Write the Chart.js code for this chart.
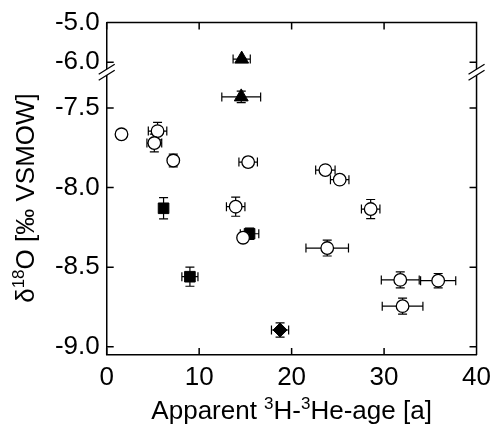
<!DOCTYPE html>
<html>
<head>
<meta charset="utf-8">
<script src="https://cdn.jsdelivr.net/npm/chart.js@4.4.1/dist/chart.umd.min.js"></script>
<style>
  html, body { margin: 0; padding: 0; background: #fff; }
  #wrap { width: 498px; height: 425px; }
</style>
</head>
<body>
<div id="wrap"><canvas id="chart"></canvas></div>
<script>
// open circles
const circleAge    = [1.6, 5.5, 5.15, 7.2, 15.3, 13.95, 14.75, 23.65, 25.2, 28.55, 23.85, 31.75, 35.85, 32.0];
const circleO18    = [-7.665, -7.645, -7.72, -7.83, -7.84, -8.12, -8.315, -7.89, -7.95, -8.135, -8.38, -8.58, -8.585, -8.745];
const circleAgeErr = [0, 1.0, 0.8, 0, 1.0, 1.0, 0, 1.05, 1.0, 1.0, 2.3, 2.05, 1.9, 2.2];
const circleO18Err = [0.025, 0.055, 0.056, 0.04, 0.03, 0.06, 0, 0.02, 0.02, 0.06, 0.05, 0.05, 0.045, 0.05];

// filled squares
const squareAge    = [6.15, 15.45, 9.0];
const squareO18    = [-8.13, -8.29, -8.56];
const squareAgeErr = [0, 1.0, 0.87];
const squareO18Err = [0.067, 0.035, 0.06];

// filled diamond
const diamondAge    = [18.75];
const diamondO18    = [-8.895];
const diamondAgeErr = [0.93];
const diamondO18Err = [0.045];

// filled triangles (one above the axis break)
const triTopAge    = [14.6];
const triTopO18    = [-5.92];
const triTopAgeErr = [0.93];
const triTopO18Err = [0.02];
const triAge    = [14.55];
const triO18    = [-7.43];
const triAgeErr = [2.1];
const triO18Err = [0.036];

const xTicks = [0, 10, 20, 30, 40];
const yTicksLow = [-9.0, -8.5, -8.0, -7.5];
const yTicksTop = [-6.0, -5.0];

const FONT = '"Liberation Sans", Arial, sans-serif';

function pts(xs, ys, xe, ye) {
  return xs.map((x, i) => ({x: x, y: ys[i], xe: xe[i], ye: ye[i]}));
}

function setTicks(vals) {
  return s => { s.ticks = vals.map(v => ({value: v})); };
}

// error bars drawn under the markers
const errorBars = {
  id: 'errorBars',
  beforeDatasetsDraw(chart) {
    const ctx = chart.ctx;
    const xs = chart.scales.x;
    const cap = 4.5;
    ctx.save();
    ctx.strokeStyle = '#000';
    ctx.lineWidth = 1.2;
    chart.data.datasets.forEach(ds => {
      const ys = chart.scales[ds.yAxisID];
      ds.data.forEach(p => {
        const px = xs.getPixelForValue(p.x);
        const py = ys.getPixelForValue(p.y);
        ctx.beginPath();
        if (p.xe) {
          const l = xs.getPixelForValue(p.x - p.xe), r = xs.getPixelForValue(p.x + p.xe);
          ctx.moveTo(l, py); ctx.lineTo(r, py);
          ctx.moveTo(l, py - cap); ctx.lineTo(l, py + cap);
          ctx.moveTo(r, py - cap); ctx.lineTo(r, py + cap);
        }
        if (p.ye) {
          const t = ys.getPixelForValue(p.y + p.ye), b = ys.getPixelForValue(p.y - p.ye);
          ctx.moveTo(px, t); ctx.lineTo(px, b);
          ctx.moveTo(px - cap, t); ctx.lineTo(px + cap, t);
          ctx.moveTo(px - cap, b); ctx.lineTo(px + cap, b);
        }
        ctx.stroke();
      });
    });
    ctx.restore();
  }
};

function drawParts(ctx, parts, x, y) {
  // parts: [text, isSuperscript]
  const big = '26px ' + FONT, small = '17px ' + FONT;
  let w = 0;
  parts.forEach(p => { ctx.font = p[1] ? small : big; w += ctx.measureText(p[0]).width; });
  let cx = x - w / 2;
  parts.forEach(p => {
    ctx.font = p[1] ? small : big;
    ctx.fillText(p[0], cx, p[1] ? y - 10 : y);
    cx += ctx.measureText(p[0]).width;
  });
}

// frame, inward ticks, axis breaks, titles
const frame = {
  id: 'frame',
  afterDraw(chart) {
    const {ctx, chartArea: a, scales} = chart;
    const tl = 7;
    ctx.save();
    ctx.strokeStyle = '#000';
    ctx.lineWidth = 1.5;
    ctx.beginPath();
    ctx.moveTo(a.left, a.top); ctx.lineTo(a.right, a.top); ctx.lineTo(a.right, a.bottom);
    scales.x.ticks.forEach(t => {
      const px = scales.x.getPixelForValue(t.value);
      ctx.moveTo(px, a.bottom); ctx.lineTo(px, a.bottom - tl);
      ctx.moveTo(px, a.top); ctx.lineTo(px, a.top + tl);
    });
    ['y', 'yTop'].forEach(id => {
      const s = scales[id];
      s.ticks.forEach(t => {
        const py = s.getPixelForValue(t.value);
        ctx.moveTo(a.left, py); ctx.lineTo(a.left + tl, py);
        ctx.moveTo(a.right, py); ctx.lineTo(a.right - tl, py);
      });
    });
    ctx.stroke();

    // axis break marks
    const yb = scales.y.top;
    ctx.lineWidth = 1.3;
    [a.left, a.right].forEach(x0 => {
      const dx = 8, dy = 5, g = 3;
      ctx.fillStyle = '#fff';
      ctx.beginPath();
      ctx.moveTo(x0 - dx, yb + dy - g); ctx.lineTo(x0 + dx, yb - dy - g);
      ctx.lineTo(x0 + dx, yb - dy + g); ctx.lineTo(x0 - dx, yb + dy + g);
      ctx.closePath(); ctx.fill();
      ctx.beginPath();
      ctx.moveTo(x0 - dx, yb + dy - g); ctx.lineTo(x0 + dx, yb - dy - g);
      ctx.moveTo(x0 - dx, yb + dy + g); ctx.lineTo(x0 + dx, yb - dy + g);
      ctx.stroke();
    });

    // axis titles
    ctx.fillStyle = '#000';
    ctx.textBaseline = 'alphabetic';
    ctx.textAlign = 'left';
    drawParts(ctx, [['Apparent ', 0], ['3', 1], ['H-', 0], ['3', 1], ['He-age [a]', 0]], (a.left + a.right) / 2, 419);
    ctx.translate(34, 198);
    ctx.rotate(-Math.PI / 2);
    drawParts(ctx, [['\u03b4', 0], ['18', 1], ['O [\u2030 VSMOW]', 0]], 0, 0);
    ctx.restore();
  }
};

const tickFont = {family: FONT, size: 26};
const yAxisBase = {
  type: 'linear',
  position: 'left',
  stack: 'y',
  grid: {display: false, drawTicks: false},
  border: {display: true, color: '#000', width: 1.5},
  ticks: {color: '#000', font: tickFont, padding: 7, autoSkip: false, callback: v => Number(v).toFixed(1)},
  afterFit: s => { s.width = 106.7; }
};

new Chart(document.getElementById('chart'), {
  type: 'scatter',
  data: {
    datasets: [
      {data: pts(circleAge, circleO18, circleAgeErr, circleO18Err), yAxisID: 'y',
       pointStyle: 'circle', pointRadius: 6.3, pointHoverRadius: 6.3,
       backgroundColor: '#fff', borderColor: '#000', borderWidth: 1.3},
      {data: pts(squareAge, squareO18, squareAgeErr, squareO18Err), yAxisID: 'y',
       pointStyle: 'rect', pointRadius: 7.5, pointHoverRadius: 7.5,
       backgroundColor: '#000', borderColor: '#000', borderWidth: 1},
      {data: pts(diamondAge, diamondO18, diamondAgeErr, diamondO18Err), yAxisID: 'y',
       pointStyle: 'rectRot', pointRadius: 7, pointHoverRadius: 7,
       backgroundColor: '#000', borderColor: '#000', borderWidth: 1},
      {data: pts(triAge, triO18, triAgeErr, triO18Err), yAxisID: 'y',
       pointStyle: 'triangle', pointRadius: 8, pointHoverRadius: 8,
       backgroundColor: '#000', borderColor: '#000', borderWidth: 1},
      {data: pts(triTopAge, triTopO18, triTopAgeErr, triTopO18Err), yAxisID: 'yTop',
       pointStyle: 'triangle', pointRadius: 8, pointHoverRadius: 8,
       backgroundColor: '#000', borderColor: '#000', borderWidth: 1}
    ]
  },
  options: {
    responsive: true,
    maintainAspectRatio: false,
    animation: false,
    layout: {padding: {top: 20, right: 18.7, left: 0, bottom: 0}},
    plugins: {legend: {display: false}, tooltip: {enabled: false}},
    scales: {
      x: {
        type: 'linear', min: 0, max: 40,
        afterBuildTicks: setTicks(xTicks),
        afterFit: s => { s.height = 70; },
        grid: {display: false, drawTicks: false},
        border: {display: true, color: '#000', width: 1.5},
        ticks: {color: '#000', font: tickFont, padding: 7, maxRotation: 0, autoSkip: false}
      },
      y: Object.assign({}, yAxisBase, {min: -9.052, max: -7.275, stackWeight: 285,
        afterBuildTicks: setTicks(yTicksLow)}),
      yTop: Object.assign({}, yAxisBase, {min: -6.25, max: -5.0, stackWeight: 50,
        afterBuildTicks: setTicks(yTicksTop)})
    }
  },
  plugins: [errorBars, frame]
});
</script>
</body>
</html>
